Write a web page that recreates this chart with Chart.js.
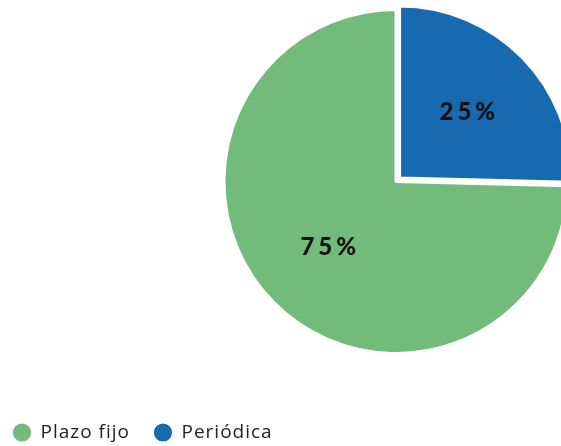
<!DOCTYPE html>
<html>
<head>
<meta charset="utf-8">
<script src="https://cdn.jsdelivr.net/npm/chart.js@4.4.0/dist/chart.umd.min.js"></script>
<style>
  html, body { margin: 0; padding: 0; width: 561px; height: 446px; overflow: hidden; background: #fff; }
  #wrap { position: absolute; left: -11px; top: -36px; width: 814px; height: 488px; }
</style>
</head>
<body>
<div id="wrap"><canvas id="tipoChart" width="814" height="488"></canvas></div>
<script>
const categorias = ['Plazo fijo', 'Periódica'];
const valores = [74.6, 25.4];
const colores = ['#73BB7B', '#176AB0'];
const desplazamientos = [0, 20];

const total = valores.reduce((a, b) => a + b, 0);

// espaciado de letras para la leyenda (el canvas se reinicia al redimensionar)
const espaciado = {
    id: 'espaciado',
    beforeUpdate(chart) { chart.ctx.letterSpacing = '1px'; },
    beforeDraw(chart) { chart.ctx.letterSpacing = '1px'; }
};

// etiquetas de porcentaje dentro de cada porción
const etiquetasPorcentaje = {
    id: 'etiquetasPorcentaje',
    afterDatasetsDraw(chart) {
        const ctx = chart.ctx;
        const meta = chart.getDatasetMeta(0);
        ctx.save();
        ctx.font = '900 24px Lato';
        ctx.letterSpacing = '4px';
        ctx.fillStyle = '#111';
        ctx.textAlign = 'center';
        ctx.textBaseline = 'middle';
        meta.data.forEach((arc, i) => {
            const p = arc.getProps(['x', 'y', 'startAngle', 'endAngle', 'outerRadius'], true);
            const mid = (p.startAngle + p.endAngle) / 2;
            const off = (desplazamientos[i] || 0) / 4; // chart.js dibuja offset/4
            const r = p.outerRadius * 0.55 + off;
            const texto = Math.round(valores[i] / total * 100) + '%';
            ctx.fillText(texto, p.x + Math.cos(mid) * r + 2, p.y + Math.sin(mid) * r);
        });
        ctx.restore();
    }
};

function createChart() {
    const ctx = document.getElementById('tipoChart').getContext('2d');
    new Chart(ctx, {
        type: 'pie',
        data: {
            labels: categorias,
            datasets: [{
                data: valores,
                backgroundColor: colores,
                borderColor: '#ffffff',
                borderWidth: 3,
                offset: desplazamientos,
                hoverOffset: 0
            }]
        },
        options: {
            responsive: false,
            animation: false,
            rotation: valores[1] / total * 360,
            radius: 172,
            layout: { padding: 0 },
            plugins: {
                legend: {
                    position: 'bottom',
                    align: 'start',
                    labels: {
                        usePointStyle: true,
                        pointStyle: 'circle',
                        boxWidth: 18,
                        boxHeight: 15,
                        padding: 24,
                        color: '#222',
                        font: { family: 'Open Sans', size: 19 }
                    }
                },
                tooltip: { enabled: false }
            }
        },
        plugins: [espaciado, etiquetasPorcentaje]
    });
}

document.addEventListener('DOMContentLoaded', createChart);
</script>
</body>
</html>
